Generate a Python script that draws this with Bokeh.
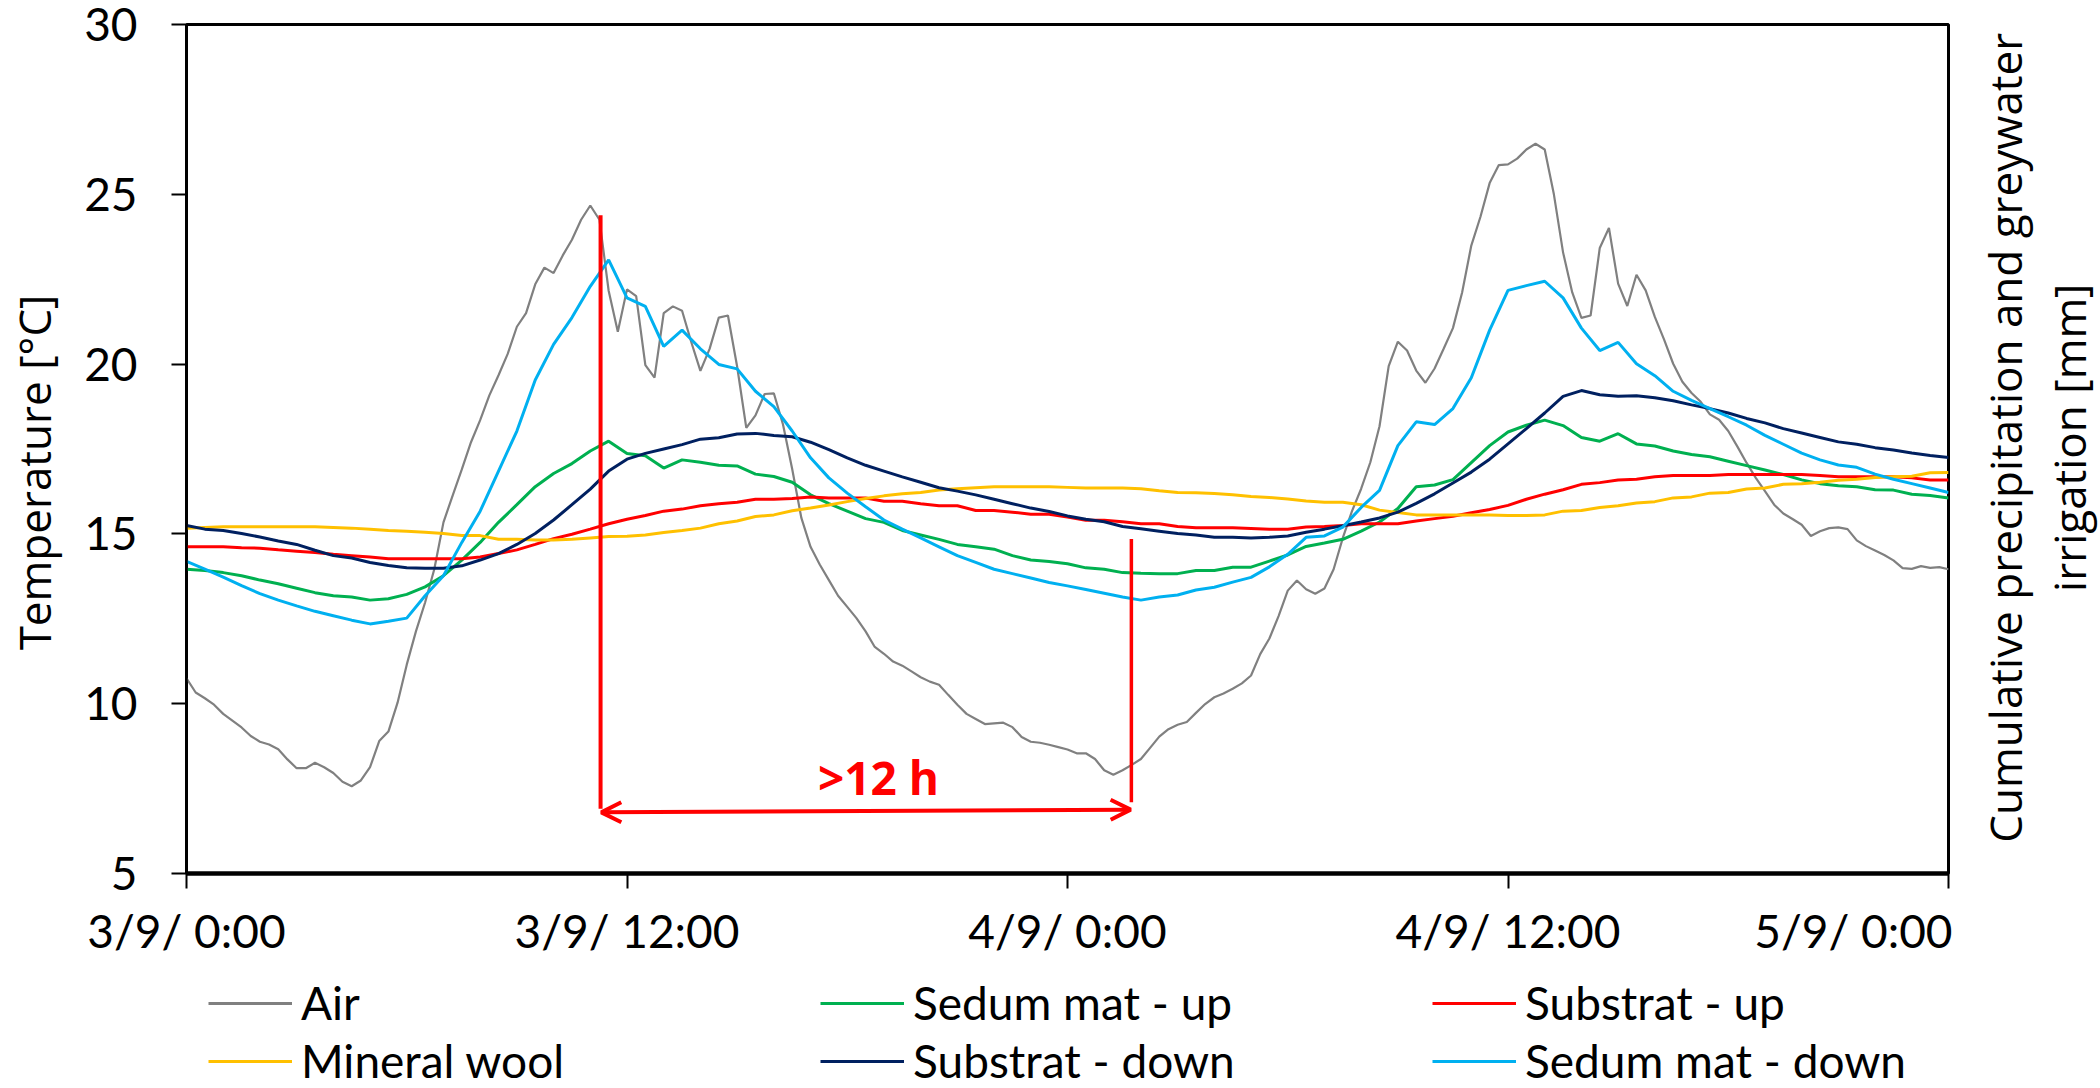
import numpy as np
from bokeh.plotting import figure
from bokeh.models import (FixedTicker, Label, Legend, LegendItem, Arrow, OpenHead, Range1d)
from bokeh.layouts import row, column
from bokeh.embed import file_html
from bokeh.resources import INLINE

# ---------------- data ----------------
# hours since 3/9 0:00
t_air = np.arange(0, 48.001, 0.25)
t_half = np.arange(0, 48.001, 0.5)

air = [
    10.75, 10.33, 10.16, 9.97, 9.7, 9.5, 9.3, 9.05, 8.88, 8.8, 8.66, 8.36,
    8.1, 8.1, 8.26, 8.13, 7.96, 7.7, 7.57, 7.74, 8.13, 8.9, 9.18, 10.03,
    11.15, 12.13, 12.98, 13.96, 15.34, 16.13, 16.9, 17.7, 18.35, 19.08, 19.67, 20.3,
    21.1, 21.5, 22.35, 22.84, 22.68, 23.2, 23.66, 24.25, 24.67, 24.25, 22.16, 20.95,
    22.2, 22.0, 19.97, 19.6, 21.5, 21.7, 21.57, 20.65, 19.8, 20.45, 21.37, 21.43,
    19.93, 18.12, 18.49, 19.12, 19.14, 18.22, 16.91, 15.47, 14.62, 14.1, 13.64, 13.18,
    12.85, 12.52, 12.13, 11.67, 11.47, 11.24, 11.12, 10.95, 10.78, 10.65, 10.56, 10.26,
    9.97, 9.7, 9.55, 9.4, 9.42, 9.44, 9.31, 9.02, 8.88, 8.85, 8.79, 8.72,
    8.65, 8.54, 8.54, 8.37, 8.04, 7.91, 8.04, 8.2, 8.37, 8.7, 9.03, 9.25,
    9.38, 9.46, 9.73, 9.99, 10.19, 10.3, 10.44, 10.6, 10.83, 11.46, 11.92, 12.58,
    13.33, 13.63, 13.37, 13.24, 13.39, 13.96, 14.88, 15.67, 16.33, 17.11, 18.17, 19.94,
    20.66, 20.4, 19.81, 19.45, 19.87, 20.46, 21.06, 22.11, 23.49, 24.34, 25.33, 25.86,
    25.88, 26.05, 26.32, 26.49, 26.32, 25.0, 23.29, 22.11, 21.36, 21.43, 23.42, 24.01,
    22.37, 21.71, 22.63, 22.17, 21.39, 20.73, 20.01, 19.48, 19.15, 18.89, 18.52, 18.36,
    18.03, 17.57, 17.09, 16.65, 16.26, 15.86, 15.6, 15.44, 15.27, 14.94, 15.08, 15.17,
    15.19, 15.14, 14.81, 14.64, 14.51, 14.38, 14.22, 13.99, 13.97, 14.05, 14.0, 14.02,
    13.96,
]

sedum_up = [
    13.96, 13.92, 13.86, 13.77, 13.64, 13.53, 13.4, 13.27, 13.18, 13.14, 13.05, 13.09,
    13.22, 13.44, 13.77, 14.23, 14.75, 15.34, 15.86, 16.39, 16.78, 17.07, 17.44, 17.73,
    17.37, 17.3, 16.94, 17.18, 17.11, 17.02, 17.0, 16.76, 16.69, 16.52, 16.15, 15.89,
    15.67, 15.45, 15.34, 15.1, 14.97, 14.84, 14.69, 14.62, 14.55, 14.36, 14.23, 14.19,
    14.12, 14.0, 13.96, 13.86, 13.84, 13.83, 13.83, 13.92, 13.92, 14.02, 14.02, 14.2,
    14.38, 14.63, 14.73, 14.84, 15.08, 15.35, 15.75, 16.39, 16.44, 16.6, 17.1, 17.6,
    18.0, 18.2, 18.35, 18.19, 17.84, 17.73, 17.95, 17.65, 17.59, 17.44, 17.34, 17.27,
    17.14, 17.01, 16.88, 16.75, 16.59, 16.48, 16.42, 16.39, 16.3, 16.29, 16.17, 16.13,
    16.06,
]

substrat_up = [
    14.62, 14.62, 14.62, 14.59, 14.58, 14.53, 14.49, 14.45, 14.4, 14.36, 14.32, 14.27,
    14.27, 14.27, 14.27, 14.27, 14.32, 14.42, 14.53, 14.69, 14.86, 14.99, 15.14, 15.3,
    15.43, 15.54, 15.67, 15.73, 15.83, 15.89, 15.93, 16.02, 16.02, 16.04, 16.09, 16.06,
    16.06, 16.06, 15.96, 15.96, 15.89, 15.83, 15.83, 15.69, 15.69, 15.64, 15.58, 15.58,
    15.5, 15.4, 15.4, 15.36, 15.3, 15.3, 15.22, 15.18, 15.18, 15.18, 15.16, 15.14,
    15.14, 15.2, 15.22, 15.25, 15.3, 15.3, 15.3, 15.38, 15.45, 15.52, 15.62, 15.72,
    15.84, 16.02, 16.17, 16.3, 16.46, 16.51, 16.59, 16.61, 16.68, 16.72, 16.72, 16.72,
    16.75, 16.75, 16.75, 16.75, 16.75, 16.72, 16.68, 16.68, 16.68, 16.68, 16.65, 16.59,
    16.59,
]

mineral_wool = [
    15.17, 15.19, 15.21, 15.21, 15.21, 15.21, 15.21, 15.21, 15.19, 15.17, 15.14, 15.1,
    15.08, 15.05, 15.01, 14.95, 14.95, 14.84, 14.84, 14.82, 14.82, 14.84, 14.88, 14.92,
    14.93, 14.97, 15.04, 15.1, 15.17, 15.3, 15.38, 15.51, 15.56, 15.68, 15.76, 15.85,
    15.95, 16.04, 16.12, 16.18, 16.22, 16.29, 16.33, 16.36, 16.39, 16.39, 16.39, 16.39,
    16.37, 16.35, 16.35, 16.35, 16.33, 16.27, 16.22, 16.21, 16.19, 16.15, 16.1, 16.07,
    16.03, 15.97, 15.93, 15.93, 15.86, 15.7, 15.63, 15.56, 15.56, 15.56, 15.56, 15.56,
    15.54, 15.54, 15.56, 15.67, 15.69, 15.78, 15.83, 15.91, 15.95, 16.06, 16.09, 16.2,
    16.22, 16.32, 16.35, 16.46, 16.48, 16.52, 16.58, 16.61, 16.66, 16.68, 16.7, 16.8,
    16.81,
]

substrat_down = [
    15.25, 15.14, 15.1, 15.01, 14.91, 14.79, 14.69, 14.52, 14.36, 14.29, 14.16, 14.07,
    14.0, 13.99, 13.99, 14.06, 14.23, 14.42, 14.69, 15.01, 15.41, 15.86, 16.32, 16.85,
    17.2, 17.37, 17.5, 17.63, 17.79, 17.83, 17.94, 17.96, 17.9, 17.86, 17.7, 17.48,
    17.24, 17.02, 16.85, 16.68, 16.52, 16.36, 16.26, 16.15, 16.02, 15.89, 15.76, 15.66,
    15.53, 15.43, 15.36, 15.22, 15.15, 15.08, 15.01, 14.97, 14.9, 14.9, 14.88, 14.9,
    14.94, 15.05, 15.14, 15.24, 15.35, 15.47, 15.64, 15.9, 16.18, 16.5, 16.82, 17.2,
    17.65, 18.1, 18.56, 19.05, 19.22, 19.1, 19.05, 19.07, 19.01, 18.92, 18.8, 18.69,
    18.56, 18.4, 18.27, 18.1, 17.97, 17.84, 17.71, 17.64, 17.54, 17.47, 17.38, 17.31,
    17.25,
]

sedum_down = [
    14.19, 13.96, 13.73, 13.48, 13.24, 13.05, 12.88, 12.72, 12.59, 12.46, 12.35, 12.43,
    12.52, 13.18, 13.77, 14.75, 15.67, 16.85, 18.03, 19.53, 20.58, 21.37, 22.29, 23.07,
    21.95, 21.7, 20.52, 21.0, 20.45, 19.99, 19.86, 19.2, 18.75, 18.03, 17.24, 16.65,
    16.2, 15.8, 15.41, 15.14, 14.88, 14.62, 14.36, 14.16, 13.96, 13.83, 13.7, 13.57,
    13.47, 13.36, 13.25, 13.14, 13.05, 13.14, 13.2, 13.35, 13.43, 13.58, 13.72, 14.03,
    14.4, 14.9, 14.94, 15.2, 15.78, 16.28, 17.6, 18.3, 18.22, 18.69, 19.6, 21.0,
    22.17, 22.31, 22.44, 21.95, 21.06, 20.4, 20.64, 20.01, 19.66, 19.2, 18.93, 18.69,
    18.45, 18.2, 17.9, 17.64, 17.38, 17.18, 17.03, 16.96, 16.76, 16.61, 16.48, 16.35,
    16.22,
]

series_names = ["Air", "Sedum mat - up", "Substrat - up",
                "Mineral wool", "Substrat - down", "Sedum mat - down"]
series_colors = ["#808080", "#00B050", "#FF0000", "#FFC000", "#002060", "#00B0F0"]

x_ticks = [0, 12, 24, 36, 48]
x_tick_labels = ["3/9/ 0:00", "3/9/ 12:00", "4/9/ 0:00", "4/9/ 12:00", "5/9/ 0:00"]
y_ticks = [5, 10, 15, 20, 25, 30]

y_title = "Temperature [°C]"
y2_title = ["Cumulative precipitation and greywater", "irrigation [mm]"]

# annotation (">12 h" lag marker), in data units
lag_x = [11.28, 25.74]
lag_top = [24.38, 14.85]
lag_bottom = [6.91, 7.10]
arrow_y = [6.80, 6.88]

TICK_FONT = "Lato"
TITLE_FONT = "Open Sans"


def blank(w, h):
    f = figure(width=w, height=h, x_range=Range1d(0, w), y_range=Range1d(0, h),
               output_backend="svg", toolbar_location=None,
               min_border=0, min_border_left=0, min_border_right=0,
               min_border_top=0, min_border_bottom=0)
    f.axis.visible = False
    f.grid.visible = False
    f.outline_line_color = None
    f.background_fill_color = "white"
    f.border_fill_color = "white"
    return f


# ---------------- main plot ----------------
LEFT_W, MAIN_W, RIGHT_W, TOP_H, LEG_H = 70, 1882, 148, 978, 110

p = figure(width=MAIN_W, height=TOP_H, x_range=(0, 48), y_range=(5, 30),
           output_backend="svg", toolbar_location=None,
           min_border_left=116, min_border_right=4,
           min_border_top=24, min_border_bottom=105)
p.grid.visible = False
p.outline_line_color = "black"
p.outline_line_width = 3
p.outline_line_alpha = 1.0
p.background_fill_color = "white"
p.border_fill_color = "white"

p.xaxis.ticker = FixedTicker(ticks=x_ticks)
p.xaxis.major_label_overrides = {t: lab for t, lab in zip(x_ticks, x_tick_labels)}
p.yaxis.ticker = FixedTicker(ticks=y_ticks)
for ax in (p.xaxis, p.yaxis):
    ax.minor_tick_line_color = None
    ax.major_tick_in = 0
    ax.major_tick_out = 15
    ax.major_tick_line_width = 2
    ax.major_tick_line_color = "black"
    ax.axis_line_color = "black"
    ax.major_label_text_font = TICK_FONT
    ax.major_label_text_font_size = "46px"
    ax.major_label_text_color = "black"
p.xaxis.axis_line_width = 4.5
p.yaxis.axis_line_width = 2.5
p.xaxis.major_label_standoff = 14
p.yaxis.major_label_standoff = 34

series_t = [t_air, t_half, t_half, t_half, t_half, t_half]
series_y = [air, sedum_up, substrat_up, mineral_wool, substrat_down, sedum_down]
series_w = [2.2, 3.0, 3.0, 3.0, 3.0, 3.0]
for tx, ty, col, lw in zip(series_t, series_y, series_colors, series_w):
    p.line(tx, ty, line_color=col, line_width=lw)

# red lag marker
p.segment(x0=lag_x, y0=lag_top, x1=lag_x, y1=lag_bottom,
          line_color="#FF0000", line_width=[4, 3.5])
p.add_layout(Arrow(
    start=OpenHead(size=20, line_color="#FF0000", line_width=4),
    end=OpenHead(size=20, line_color="#FF0000", line_width=4),
    x_start=lag_x[0] + 0.02, y_start=arrow_y[0], x_end=lag_x[1] - 0.02, y_end=arrow_y[1],
    line_color="#FF0000", line_width=4))
p.add_layout(Label(x=18.85, y=7.85, text=">12 h", text_font=TITLE_FONT,
                   text_font_style="bold", text_font_size="46px", text_color="#FF0000",
                   text_align="center", text_baseline="alphabetic"))

# ---------------- left title strip ----------------
lf = blank(LEFT_W, TOP_H)
lf.add_layout(Label(x=33, y=TOP_H - 516, text=y_title, angle=np.pi / 2,
                    text_font=TITLE_FONT, text_font_size="44px", text_color="black",
                    text_align="center", text_baseline="middle"))

# ---------------- right title strip ----------------
rf = blank(RIGHT_W, TOP_H)
for cx, txt in zip([2004.5 - (LEFT_W + MAIN_W), 2068 - (LEFT_W + MAIN_W)], y2_title):
    rf.add_layout(Label(x=cx, y=TOP_H - 476, text=txt, angle=np.pi / 2,
                        text_font=TITLE_FONT, text_font_size="44px", text_color="black",
                        text_align="center", text_baseline="middle"))

# ---------------- legend strip ----------------
lg = blank(LEFT_W + MAIN_W + RIGHT_W, LEG_H)
handles = {}
for name, col in zip(series_names, series_colors):
    handles[name] = lg.line(x=[np.nan], y=[np.nan], line_color=col, line_width=3)
# the grid legend is filled column by column: order so rows read as in the reference
order = [0, 3, 1, 4, 2, 5]
items = [LegendItem(label=series_names[i], renderers=[handles[series_names[i]]]) for i in order]
legend = Legend(items=items, ncols=3, location=(208, 0),
                label_text_font=TICK_FONT, label_text_font_size="46px",
                label_text_color="black",
                glyph_width=84, glyph_height=20, label_standoff=9,
                label_width=516, label_height=55, spacing=3,
                padding=0, margin=0, border_line_color=None,
                background_fill_alpha=0)
lg.add_layout(legend)

layout = column(row(lf, p, rf), lg)
open("out.html", "w").write(file_html(layout, INLINE))
